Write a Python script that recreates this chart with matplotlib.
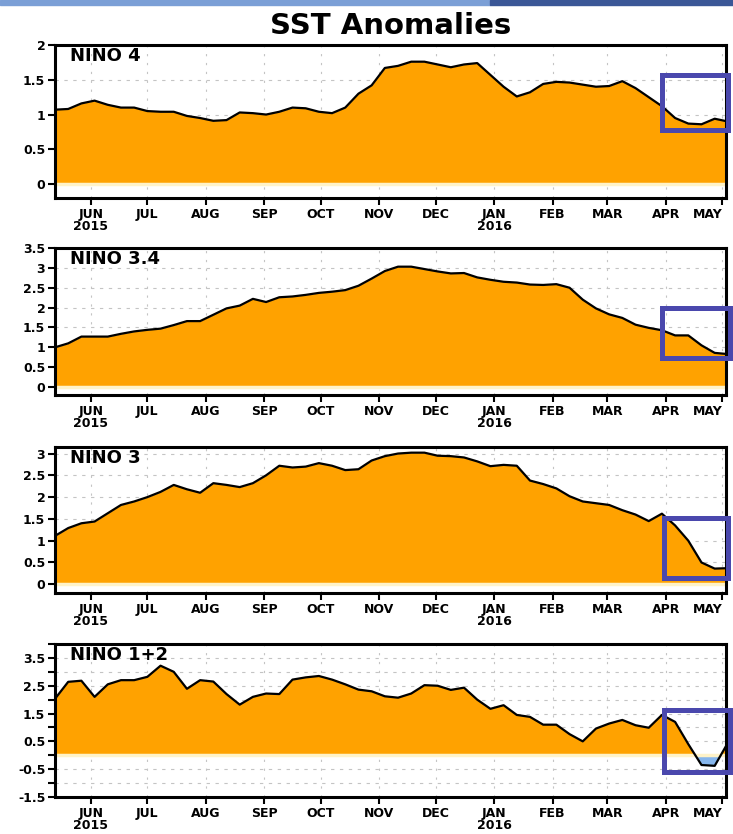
import matplotlib
matplotlib.use("Agg")
import matplotlib.pyplot as plt
import matplotlib.dates as mdates
from matplotlib import font_manager
import numpy as np
import pandas as pd
from matplotlib.patches import Rectangle

# weekly SST anomalies (deg C), weeks centred on Wednesdays
weeks = pd.date_range("2015-05-13", periods=52, freq="7D")

nino4 = [1.07, 1.08, 1.16, 1.20, 1.14, 1.10, 1.10, 1.05, 1.04, 1.04,
         0.98, 0.95, 0.91, 0.92, 1.03, 1.02, 1.00, 1.04, 1.10, 1.09,
         1.04, 1.02, 1.10, 1.30, 1.42, 1.67, 1.70, 1.76, 1.76, 1.72,
         1.68, 1.72, 1.74, 1.57, 1.40, 1.26, 1.32, 1.44, 1.47, 1.46,
         1.43, 1.40, 1.41, 1.48, 1.38, 1.25, 1.12, 0.95, 0.87, 0.86,
         0.94, 0.90]
nino34 = [1.00, 1.10, 1.27, 1.27, 1.27, 1.34, 1.40, 1.44, 1.47, 1.56,
          1.66, 1.66, 1.82, 1.98, 2.05, 2.22, 2.14, 2.26, 2.28, 2.32,
          2.37, 2.40, 2.44, 2.55, 2.73, 2.92, 3.03, 3.03, 2.97, 2.91,
          2.86, 2.87, 2.76, 2.70, 2.65, 2.63, 2.58, 2.57, 2.59, 2.50,
          2.20, 1.98, 1.83, 1.74, 1.57, 1.49, 1.43, 1.30, 1.30, 1.05,
          0.86, 0.83]
nino3 = [1.11, 1.29, 1.40, 1.44, 1.63, 1.82, 1.90, 2.00, 2.12, 2.28,
         2.18, 2.10, 2.32, 2.28, 2.23, 2.32, 2.50, 2.72, 2.68, 2.70,
         2.78, 2.72, 2.62, 2.64, 2.84, 2.94, 3.00, 3.02, 3.02, 2.95,
         2.94, 2.91, 2.82, 2.71, 2.74, 2.72, 2.38, 2.30, 2.20, 2.02,
         1.90, 1.86, 1.82, 1.70, 1.60, 1.45, 1.62, 1.35, 1.00, 0.50,
         0.36, 0.37]
nino12 = [2.03, 2.64, 2.68, 2.10, 2.55, 2.70, 2.70, 2.82, 3.22, 3.00,
          2.39, 2.70, 2.65, 2.20, 1.82, 2.10, 2.22, 2.20, 2.72, 2.80,
          2.85, 2.72, 2.55, 2.36, 2.30, 2.12, 2.07, 2.22, 2.52, 2.50,
          2.35, 2.43, 2.00, 1.67, 1.80, 1.45, 1.38, 1.10, 1.10, 0.76,
          0.50, 0.96, 1.14, 1.27, 1.08, 0.99, 1.45, 1.20, 0.40, -0.35,
          -0.38, 0.45]

names = ["NINO 4", "NINO 3.4", "NINO 3", "NINO 1+2"]
series = [nino4, nino34, nino3, nino12]
ylims = [(-0.2, 2.0), (-0.2, 3.5), (-0.2, 3.15), (-1.5, 4.0)]
yticks = [[0, 0.5, 1, 1.5, 2],
          [0, 0.5, 1, 1.5, 2, 2.5, 3, 3.5],
          [0, 0.5, 1, 1.5, 2, 2.5, 3],
          [-1.5, -0.5, 0.5, 1.5, 2.5, 3.5]]
# highlight box: (start, end, low, high)
boxes = [("2016-03-30", "2016-05-04", 0.78, 1.57),
         ("2016-03-30", "2016-05-05", 0.73, 1.98),
         ("2016-03-31", "2016-05-04", 0.14, 1.52),
         ("2016-03-31", "2016-05-05", -0.61, 1.64)]

months = pd.date_range("2015-06-01", "2016-05-01", freq="MS")
month_labels = ["JUN\n2015", "JUL", "AUG", "SEP", "OCT", "NOV", "DEC",
                "JAN\n2016", "FEB", "MAR", "APR", "MAY"]

installed = {f.name for f in font_manager.fontManager.ttflist}
narrow = "Liberation Sans Narrow" if "Liberation Sans Narrow" in installed else "DejaVu Sans"

W, H = 733, 834
fig = plt.figure(figsize=(W / 100, H / 100), dpi=100)

# slide header strip
fig.patches.append(Rectangle((0, 1 - 5 / H), 490 / W, 5 / H, transform=fig.transFigure,
                             color="#7b9fd6", zorder=0))
fig.patches.append(Rectangle((490 / W, 1 - 5 / H), 1 - 490 / W, 5 / H, transform=fig.transFigure,
                             color="#3b5797", zorder=0))

fig.text(391 / W, 1 - 26 / H, "SST Anomalies", ha="center", va="center",
         fontsize=21, fontweight="bold")

# axes frames in pixels: top, bottom
frames = [(45, 198), (248, 395), (447, 593), (644, 797)]
left, right = 55, 726

orange = "#ffa200"
blue_fill = "#86b6ec"
box_col = "#4a48ad"

for i, (name, vals, (top, bot)) in enumerate(zip(names, series, frames)):
    ax = fig.add_axes([left / W, 1 - bot / H, (right - left) / W, (bot - top) / H])
    v = np.array(vals)
    ax.set_xlim(pd.Timestamp("2015-05-13"), pd.Timestamp("2016-05-03"))
    ax.set_ylim(*ylims[i])

    # grid
    lo, hi = ylims[i]
    for g in np.arange(np.ceil(lo * 2) / 2, hi + 0.01, 0.5):
        ax.axhline(g, color="#c4c4c4", lw=0.8, ls=(0, (3, 5)), zorder=0)
    for m in months:
        ax.axvline(m, color="#c4c4c4", lw=0.8, ls=(0, (2, 6)), zorder=0)

    ax.fill_between(weeks, v, 0, where=v >= 0, interpolate=True, color=orange,
                    lw=0, zorder=1)
    ax.fill_between(weeks, v, 0, where=v <= 0, interpolate=True, color=blue_fill,
                    lw=0, zorder=1)
    ax.axhline(0, color="#fff3c8", lw=2.5, zorder=1.5)
    ax.plot(weeks, v, color="black", lw=1.6, zorder=2)

    x0, x1, b0, b1 = boxes[i]
    xa = mdates.date2num(pd.Timestamp(x0))
    xb = mdates.date2num(pd.Timestamp(x1))
    ax.add_patch(Rectangle((xa, b0), xb - xa, b1 - b0, fill=False, ec=box_col,
                           lw=3.6, zorder=3, clip_on=False))

    ax.text(0.022, 0.985, name, transform=ax.transAxes, ha="left", va="top",
            fontsize=13, fontweight="bold", zorder=4)

    ax.set_yticks(yticks[i])
    ax.set_yticklabels([f"{t:g}" for t in yticks[i]], fontweight="bold", fontsize=9,
                       family=narrow)
    if i == 3:
        ax.set_yticks(np.arange(-1.5, 4.01, 0.5), minor=True)
        ax.tick_params(axis="y", which="minor", length=5, width=1.5, direction="out")
    ax.set_xticks(months)
    labs = ax.set_xticklabels(month_labels, fontweight="bold", fontsize=9,
                              linespacing=0.9, family=narrow)
    # keep the last label inside the picture
    labs[-1].set_horizontalalignment("right")
    ax.tick_params(axis="both", which="major", length=5, width=1.5, direction="out",
                   pad=2)
    for s in ax.spines.values():
        s.set_linewidth(2.2)

fig.savefig("out.png", dpi=100)
